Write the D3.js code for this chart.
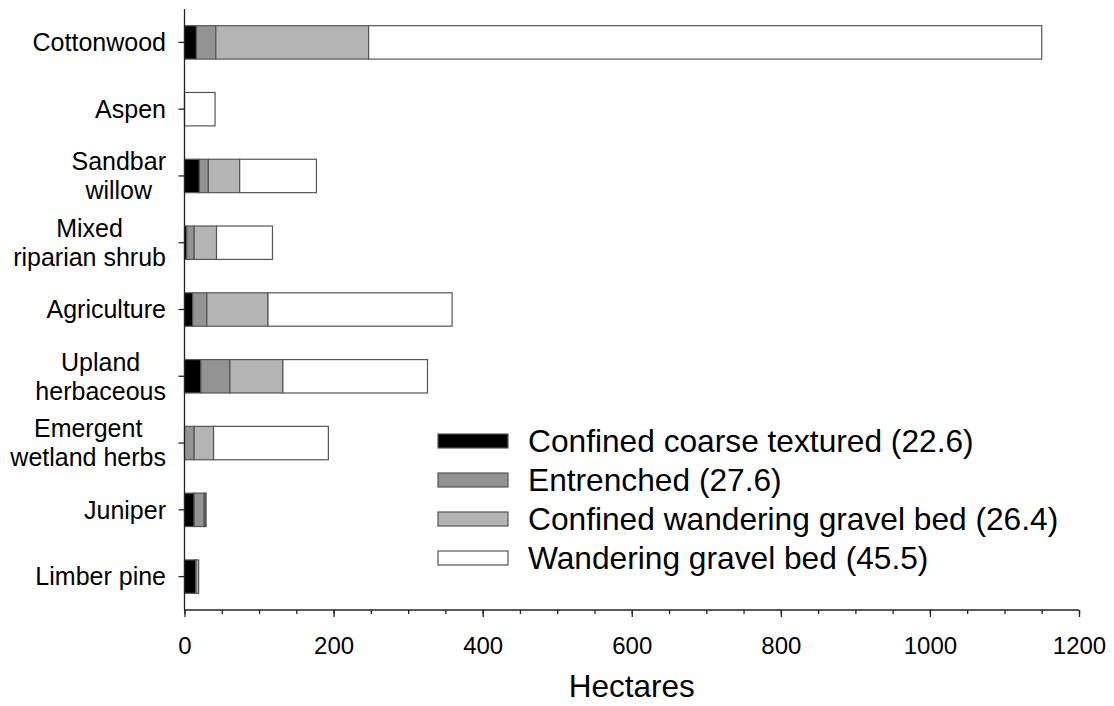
<!DOCTYPE html>
<html>
<head>
<meta charset="utf-8">
<script src="https://cdn.jsdelivr.net/npm/d3@7"></script>
<style>
  html, body { margin: 0; padding: 0; background: #fff; }
  svg { display: block; font-family: "Liberation Sans", Arial, Helvetica, sans-serif; }
</style>
</head>
<body>
<svg id="chart" width="1114" height="706"></svg>
<script>
// Vegetation cover types (top to bottom); "\n" splits a label over two lines
const categories = [
  "Cottonwood",
  "Aspen",
  "Sandbar\nwillow",
  "Mixed\nriparian shrub",
  "Agriculture",
  "Upland\nherbaceous",
  "Emergent\nwetland herbs",
  "Juniper",
  "Limber pine"
];

// Channel reach types, in stacking order
const seriesNames = [
  "Confined coarse textured (22.6)",
  "Entrenched (27.6)",
  "Confined wandering gravel bed (26.4)",
  "Wandering gravel bed (45.5)"
];

// Hectares of each cover type within each reach type
const confinedCoarse   = [16, 0, 20, 3, 11, 22, 0, 13, 15];
const entrenched       = [26, 0, 12, 10, 19, 39, 13, 13.5, 0.5];
const confinedWander   = [205, 0, 42, 30, 82, 71, 26, 1.5, 3.5];
const wanderingGravel  = [903, 41, 103, 75, 247, 194, 154, 1, 0];

const xTicks = [0, 200, 400, 600, 800, 1000, 1200];
const xMinorTicks = d3.range(0, 1201, 50);

const fills = ["#000000", "#939393", "#b4b4b4", "#ffffff"];

const svg = d3.select("#chart");

const x = d3.scaleLinear().domain([0, 1200]).range([184.5, 1079]);
const y = d3.scaleBand().domain(categories).range([9, 610])
  .paddingInner(0.5).paddingOuter(0.25);

// Build stacked rows
const rows = categories.map((c, i) => ({
  cat: c,
  s0: confinedCoarse[i], s1: entrenched[i], s2: confinedWander[i], s3: wanderingGravel[i]
}));
const stack = d3.stack().keys(["s0", "s1", "s2", "s3"]);
const layers = stack(rows);

svg.append("g").selectAll("g")
  .data(layers)
  .join("g")
  .attr("fill", (d, i) => fills[i])
  .selectAll("rect")
  .data(d => d.filter(p => p[1] - p[0] > 0))
  .join("rect")
  .attr("x", d => x(d[0]))
  .attr("y", d => y(d.data.cat))
  .attr("width", d => x(d[1]) - x(d[0]))
  .attr("height", y.bandwidth())
  .attr("stroke", "#555")
  .attr("stroke-width", 1.2);

// Y axis (left)
const yAxis = svg.append("g");
yAxis.append("line")
  .attr("x1", x(0)).attr("x2", x(0))
  .attr("y1", 9).attr("y2", 610)
  .attr("stroke", "#222").attr("stroke-width", 1.3);
yAxis.selectAll("line.tick")
  .data(categories)
  .join("line")
  .attr("class", "tick")
  .attr("x1", x(0) - 6).attr("x2", x(0))
  .attr("y1", d => y(d) + y.bandwidth() / 2)
  .attr("y2", d => y(d) + y.bandwidth() / 2)
  .attr("stroke", "#222").attr("stroke-width", 1.3);

const labelRight = 166;
const lineGap = 29;
const labels = yAxis.selectAll("text.cat")
  .data(categories)
  .join("text")
  .attr("class", "cat")
  .attr("font-size", 25)
  .attr("fill", "#000")
  .attr("text-anchor", "middle");
labels.each(function (d) {
  const parts = d.split("\n");
  const t = d3.select(this);
  const cy = y(d) + y.bandwidth() / 2;
  const y0 = cy - (parts.length - 1) * lineGap / 2;
  parts.forEach((p, k) => {
    t.append("tspan").attr("y", y0 + k * lineGap).attr("dy", "0.35em").text(p);
  });
  // center each line within a block that is right-aligned to labelRight
  let maxW = 0;
  t.selectAll("tspan").each(function () { maxW = Math.max(maxW, this.getComputedTextLength()); });
  t.selectAll("tspan").attr("x", labelRight - maxW / 2);
});

// X axis (bottom)
const xAxisG = svg.append("g").attr("transform", "translate(0,610)");
xAxisG.call(d3.axisBottom(x).tickValues(xMinorTicks).tickSize(4).tickFormat(""));
xAxisG.call(g => g.select(".domain").remove());
const xMajor = svg.append("g").attr("transform", "translate(0,610)")
  .call(d3.axisBottom(x).tickValues(xTicks).tickSize(7).tickPadding(20).tickFormat(d3.format("d")));
xMajor.select(".domain").attr("d", `M${x(0)},0H${x(1200)}`).attr("stroke", "#222").attr("stroke-width", 1.3);
svg.selectAll(".tick line").attr("stroke", "#222").attr("stroke-width", 1.3);
xMajor.selectAll(".tick text").attr("font-size", 24).attr("fill", "#000")
  .attr("font-family", '"Liberation Sans", Arial, sans-serif');

// Axis title
svg.append("text")
  .attr("x", (x(0) + x(1200)) / 2)
  .attr("y", 697)
  .attr("text-anchor", "middle")
  .attr("font-size", 31.5)
  .attr("fill", "#000")
  .text("Hectares");

// Legend
const legend = svg.append("g");
const legY = [441, 480, 519, 558];
seriesNames.forEach((name, i) => {
  legend.append("rect")
    .attr("x", 438).attr("y", legY[i] - 7)
    .attr("width", 70).attr("height", 14)
    .attr("fill", fills[i]).attr("stroke", "#555").attr("stroke-width", 1.2);
  legend.append("text")
    .attr("x", 528).attr("y", legY[i]).attr("dy", "0.35em")
    .attr("font-size", 31.7).attr("fill", "#000")
    .text(name);
});
</script>
</body>
</html>
